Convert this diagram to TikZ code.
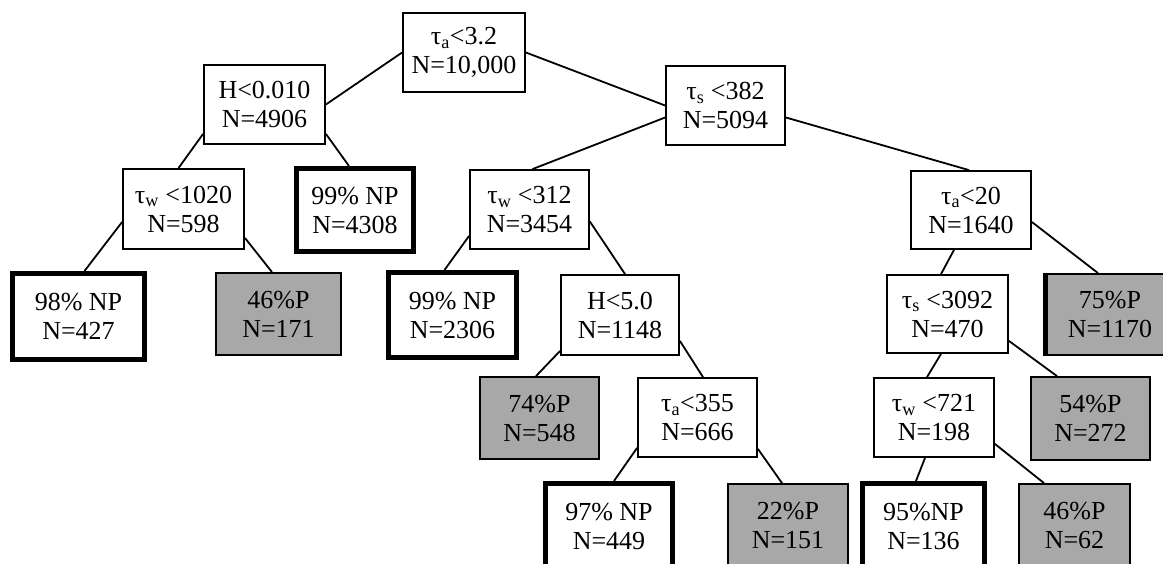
\documentclass[tikz,border=0pt]{standalone}
\usepackage{fontspec}
\setmainfont{Liberation Serif}
\begin{document}
\begin{tikzpicture}[x=1pt,y=-1pt,
  every node/.style={font=\fontsize{26}{29}\selectfont, align=center, inner sep=0pt},
  split/.style={draw, line width=1.8pt, fill=white},
  npleaf/.style={draw, line width=5pt, fill=white},
  pleaf/.style={draw, line width=1.8pt, fill=black!34},
  link/.style={line width=1.8pt}]
\useasboundingbox[fill=white] (0,0) rectangle (1163,564);
% row 0
\node[split, minimum width=122pt, minimum height=79pt] (root) at (464,52.5) {τ\textsubscript{a}<3.2\\N=10,000};
% row 1
\node[split, minimum width=121pt, minimum height=79pt] (h1) at (264.5,104.5) {H<0.010\\N=4906};
\node[split, minimum width=119pt, minimum height=79pt] (ts1) at (725.5,105.5) {τ\textsubscript{s} <382\\N=5094};
% row 2
\node[split, minimum width=121pt, minimum height=80pt] (tw1) at (183.5,209) {τ\textsubscript{w} <1020\\N=598};
\node[npleaf, minimum width=117pt, minimum height=83pt] (np4308) at (355,210) {99\% NP\\N=4308};
\node[split, minimum width=119pt, minimum height=79pt] (tw2) at (529.5,209.5) {τ\textsubscript{w} <312\\N=3454};
\node[split, minimum width=120pt, minimum height=78pt] (ta20) at (971,210) {τ\textsubscript{a}<20\\N=1640};
% row 3
\node[npleaf, minimum width=132pt, minimum height=86pt] (np427) at (78.5,316.5) {98\% NP\\N=427};
\node[pleaf, minimum width=125pt, minimum height=82pt] (p171) at (278.5,314) {46\%P\\N=171};
\node[npleaf, minimum width=128pt, minimum height=85pt] (np2306) at (452.5,315) {99\% NP\\N=2306};
\node[split, minimum width=118pt, minimum height=80pt] (h5) at (620,315) {H<5.0\\N=1148};
\node[split, minimum width=121pt, minimum height=78pt] (ts3092) at (947.5,314) {τ\textsubscript{s} <3092\\N=470};
\node[pleaf, minimum width=128pt, minimum height=81pt] (p1170) at (1110,314.5) {75\%P\\N=1170};
\draw[line width=5pt] (p1170.north west) -- (p1170.south west);
% row 4
\node[pleaf, minimum width=119pt, minimum height=82pt] (p548) at (539.5,418) {74\%P\\N=548};
\node[split, minimum width=119pt, minimum height=79pt] (ta355) at (697.5,417.5) {τ\textsubscript{a}<355\\N=666};
\node[split, minimum width=120pt, minimum height=79pt] (tw721) at (934,417.5) {τ\textsubscript{w} <721\\N=198};
\node[pleaf, minimum width=119pt, minimum height=83pt] (p272) at (1090.5,418.5) {54\%P\\N=272};
% row 5
\node[npleaf, minimum width=127pt, minimum height=85pt] (np449) at (609,526) {97\% NP\\N=449};
\node[pleaf, minimum width=120pt, minimum height=83pt] (p151) at (788,525.5) {22\%P\\N=151};
\node[npleaf, minimum width=122pt, minimum height=85pt] (np136) at (923.5,526) {95\%NP\\N=136};
\node[pleaf, minimum width=111pt, minimum height=83pt] (p62) at (1074.5,525.5) {46\%P\\N=62};
% connectors
\draw[link] (root.west) -- (h1.east);
\draw[link] (root.east) -- (ts1.west);
\draw[link] ([yshift=11pt]h1.south west) -- ([xshift=-5pt]tw1.north);
\draw[link] ([yshift=11pt]h1.south east) -- ([xshift=-6pt]np4308.north);
\draw[link] ([yshift=-12pt]ts1.west) -- ([xshift=3pt]tw2.north);
\draw[link] ([yshift=-12pt]ts1.east) -- ([xshift=-2pt]ta20.north);
\draw[link] ([yshift=-13pt]tw1.west) -- ([xshift=6pt]np427.north);
\draw[link] ([yshift=12pt]tw1.south east) -- ([xshift=-6.5pt]p171.north);
\draw[link] ([yshift=14pt]tw2.south west) -- ([xshift=-8pt]np2306.north);
\draw[link] ([yshift=-12pt]tw2.east) -- ([xshift=5pt]h5.north);
\draw[link] ([xshift=-17pt]ta20.south) -- ([xshift=-6.5pt]ts3092.north);
\draw[link] ([yshift=-12pt]ta20.east) -- ([xshift=-12pt]p1170.north);
\draw[link] ([yshift=5pt]h5.south west) -- ([xshift=-3.5pt]p548.north);
\draw[link] ([yshift=15pt]h5.south east) -- ([xshift=5.5pt]ta355.north);
\draw[link] ([xshift=-6.5pt]ts3092.south) -- ([xshift=-7pt]tw721.north);
\draw[link] ([yshift=13pt]ts3092.south east) -- ([xshift=-33.5pt]p272.north);
\draw[link] ([yshift=10pt]ta355.south west) -- ([xshift=5pt]np449.north);
\draw[link] ([yshift=9pt]ta355.south east) -- ([xshift=-6pt]p151.north);
\draw[link] ([xshift=-9pt]tw721.south) -- ([xshift=-7.5pt]np136.north);
\draw[link] ([yshift=14pt]tw721.south east) -- ([xshift=-30.5pt]p62.north);
\end{tikzpicture}
\end{document}
